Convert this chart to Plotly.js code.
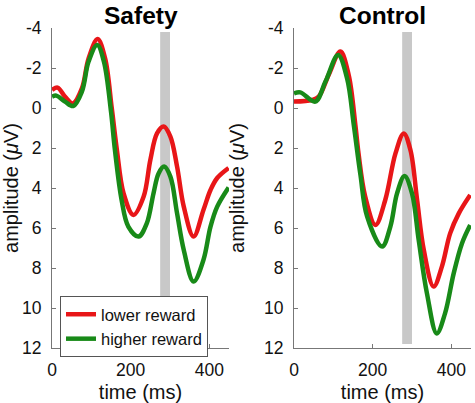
<!DOCTYPE html>
<html>
<head>
<meta charset="utf-8">
<script src="https://cdn.plot.ly/plotly-3.0.1.min.js"></script>
<style>html,body{margin:0;padding:0;background:#fff;}#chart{width:475px;height:403px;}</style>
</head>
<body>
<div id="chart"></div>
<script>
// ---- data ----
const panelTitles = ['Safety', 'Control'];
const seriesNames = ['lower reward', 'higher reward'];

// Safety panel
const safetyLowerX = [0, 14, 33, 53, 76, 93, 116, 135, 152, 165, 182, 207, 233, 250, 267, 284, 301, 318, 335, 360, 385, 403, 420, 449];
const safetyLowerY = [-0.9, -1.02, -0.57, -0.23, -0.98, -2.48, -3.45, -2.48, 0.02, 2.1, 4.27, 5.35, 4.43, 2.6, 1.27, 0.93, 1.43, 2.93, 4.93, 6.43, 5.1, 4.1, 3.5, 3.0];
const safetyHigherX = [0, 11, 33, 54, 76, 93, 115, 132, 150, 160, 177, 194, 220, 241, 258, 271, 285, 301, 318, 335, 360, 385, 403, 420, 449];
const safetyHigherY = [-0.57, -0.62, -0.32, -0.1, -0.82, -2.32, -3.15, -2.32, 0.18, 2.1, 4.6, 5.93, 6.43, 5.77, 4.27, 3.27, 2.93, 3.43, 5.27, 7.1, 8.68, 7.6, 5.93, 4.93, 3.97];

// Control panel
const controlLowerX = [0, 46, 63, 88, 118, 139, 156, 164, 181, 207, 232, 258, 279, 296, 313, 330, 355, 376, 397, 419, 448];
const controlLowerY = [-0.32, -0.4, -0.57, -1.65, -2.82, -1.65, 0.85, 2.27, 4.43, 5.85, 4.6, 2.27, 1.27, 2.1, 4.6, 7.1, 8.93, 7.93, 6.27, 5.27, 4.35];
const controlHigherX = [0, 16, 54, 80, 112, 135, 152, 169, 186, 224, 245, 262, 281, 300, 317, 338, 363, 384, 406, 427, 448];
const controlHigherY = [-0.73, -0.78, -0.32, -1.32, -2.65, -1.48, 0.85, 3.35, 5.43, 6.93, 5.93, 4.27, 3.4, 4.27, 6.6, 9.27, 11.27, 10.27, 8.27, 6.77, 5.85];

// analysis window (ms) and its vertical extent
const bandX = [275, 300];
const bandY = [-3.8, 11.8];

// axis ticks
const xTicks = [0, 200, 400];
const xTickText = ['0', '200', '400'];
const yTicks = [-4, -2, 0, 2, 4, 6, 8, 10, 12];
const yTickText = ['-4', '-2', '0', '2', '4', '6', '8', '10', '12'];
const xRange = [0, 450];
const yRange = [12, -4];

// ---- styling ----
const RED = 'rgb(232,22,24)';
const GREEN = 'rgb(24,138,24)';
const AXC = '#777777';
const FONT = 'Liberation Sans, Arial, Helvetica, sans-serif';

function line(x, y, color, name, xa, ya, show) {
  return {x: x, y: y, type: 'scatter', mode: 'lines', name: name,
    line: {color: color, width: 4.5, shape: 'spline', smoothing: 1},
    xaxis: xa, yaxis: ya, showlegend: show, hoverinfo: 'skip'};
}

const data = [
  line(safetyLowerX, safetyLowerY, RED, seriesNames[0], 'x', 'y', true),
  line(safetyHigherX, safetyHigherY, GREEN, seriesNames[1], 'x', 'y', true),
  line(controlLowerX, controlLowerY, RED, seriesNames[0], 'x2', 'y2', false),
  line(controlHigherX, controlHigherY, GREEN, seriesNames[1], 'x2', 'y2', false)
];

function xax(domain, anchor) {
  return {domain: domain, anchor: anchor, range: xRange, tickvals: xTicks, ticktext: xTickText,
    ticks: 'inside', ticklen: 4, tickcolor: AXC, showline: true, linecolor: AXC, linewidth: 1,
    showgrid: false, zeroline: false, automargin: false, ticklabelstandoff: 6,
    tickfont: {size: 17.5, color: '#111'},
    title: {text: 'time (ms)', font: {size: 20, color: '#111'}}};
}
function yax(domain, anchor) {
  return {domain: domain, anchor: anchor, range: yRange, tickvals: yTicks, ticktext: yTickText,
    ticks: 'inside', ticklen: 4, tickcolor: AXC, showline: true, linecolor: AXC, linewidth: 1,
    showgrid: false, zeroline: false, automargin: false, ticklabelstandoff: 6,
    tickfont: {size: 17.5, color: '#111'},
    title: {text: 'amplitude (<i>μ</i>V)', font: {size: 20, color: '#111'}}};
}

const W = 475, H = 403;
const yDom = [(H - 348) / H, (H - 28) / H];
const x1Dom = [52 / W, 229 / W];
const x2Dom = [294 / W, 471 / W];

const layout = {
  width: W, height: H,
  margin: {l: 0, r: 0, t: 0, b: 0},
  paper_bgcolor: '#fff', plot_bgcolor: 'rgba(0,0,0,0)',
  font: {family: FONT, color: '#111'},
  xaxis: xax(x1Dom, 'y'),
  yaxis: yax(yDom, 'x'),
  xaxis2: xax(x2Dom, 'y2'),
  yaxis2: yax(yDom, 'x2'),
  shapes: [
    {type: 'rect', xref: 'x', yref: 'y', x0: bandX[0], x1: bandX[1], y0: bandY[0], y1: bandY[1],
     fillcolor: '#c8c8c8', line: {width: 0}, layer: 'below'},
    {type: 'rect', xref: 'x2', yref: 'y2', x0: bandX[0], x1: bandX[1], y0: bandY[0], y1: bandY[1],
     fillcolor: '#c8c8c8', line: {width: 0}, layer: 'below'}
  ],
  annotations: [
    {text: '<b>' + panelTitles[0] + '</b>', xref: 'paper', yref: 'paper',
     x: (x1Dom[0] + x1Dom[1]) / 2, y: (H - 15) / H, xanchor: 'center', yanchor: 'middle',
     showarrow: false, font: {size: 24.5, color: '#000'}},
    {text: '<b>' + panelTitles[1] + '</b>', xref: 'paper', yref: 'paper',
     x: (x2Dom[0] + x2Dom[1]) / 2, y: (H - 15) / H, xanchor: 'center', yanchor: 'middle',
     showarrow: false, font: {size: 24.5, color: '#000'}}
  ],
  showlegend: true,
  legend: {x: 60 / W, y: (H - 296) / H, xanchor: 'left', yanchor: 'top',
    bgcolor: '#fff', bordercolor: '#555', borderwidth: 1,
    font: {size: 16.5, color: '#111'}, tracegroupgap: 0, itemwidth: 30}
};

Plotly.newPlot('chart', data, layout, {displayModeBar: false, staticPlot: true});
</script>
</body>
</html>
